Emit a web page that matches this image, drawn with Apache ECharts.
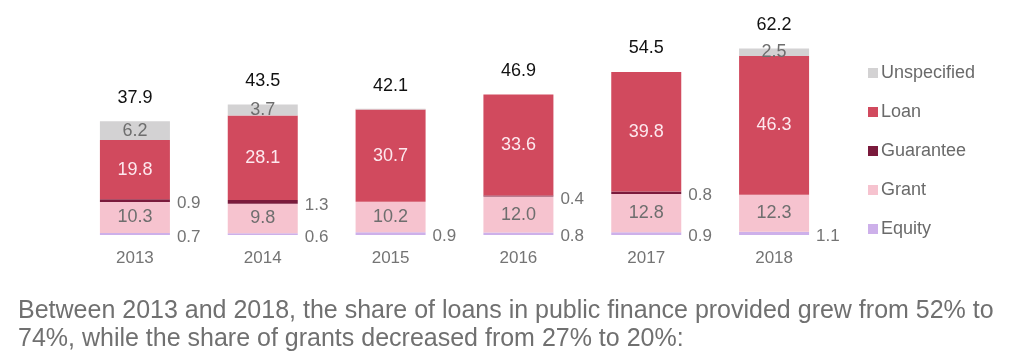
<!DOCTYPE html>
<html>
<head>
<meta charset="utf-8">
<script src="https://cdn.jsdelivr.net/npm/echarts@6/dist/echarts.min.js"></script>
<style>html,body{margin:0;padding:0;background:#fff;}#c{width:1024px;height:360px;}</style>
</head>
<body>
<div id="c"></div>
<script>
var years = ['2013', '2014', '2015', '2016', '2017', '2018'];
var equity = [0.7, 0.6, 0.9, 0.8, 0.9, 1.1];
var grant = [10.3, 9.8, 10.2, 12.0, 12.8, 12.3];
var guarantee = [0.9, 1.3, 0, 0.4, 0.8, 0];
var loan = [19.8, 28.1, 30.7, 33.6, 39.8, 46.3];
var unspecified = [6.2, 3.7, 0.3, 0, 0, 2.5];
var totals = [37.9, 43.5, 42.1, 46.9, 54.5, 62.2];
var caption = 'Between 2013 and 2018, the share of loans in public finance provided grew from 52% to\n74%, while the share of grants decreased from 27% to 20%:';

var FONT = '"Liberation Sans", Arial, sans-serif';
var GREY = '#747474';

function items(vals, insideColor, showSmallOutside) {
  return vals.map(function (v) {
    if (!v) return { value: v, label: { show: false } };
    if (v >= 2) {
      return { value: v, label: { show: true, position: 'inside', color: insideColor, fontSize: 18 } };
    }
    if (showSmallOutside) {
      return { value: v, label: { show: true, position: 'right', distance: 7, offset: [0, 3], color: GREY, fontSize: 17 } };
    }
    return { value: v, label: { show: false } };
  });
}

function seg(name, vals, color, insideColor, small) {
  return {
    name: name, type: 'bar', stack: 'all', barWidth: 70,
    itemStyle: { color: color },
    label: { fontFamily: FONT, formatter: function (p) { return p.value.toFixed(1); } },
    data: items(vals, insideColor, small)
  };
}

var chart = echarts.init(document.getElementById('c'));
chart.setOption({
  animation: false,
  grid: { left: 71, right: 186, top: 25, bottom: 125 },
  legend: {
    orient: 'vertical', left: 863, top: 59,
    itemWidth: 10, itemHeight: 10, itemGap: 21, icon: 'rect',
    data: ['Unspecified', 'Loan', 'Guarantee', 'Grant', 'Equity'],
    textStyle: { fontSize: 18, color: '#6a6a6a', fontFamily: FONT, padding: [0, 0, 0, -2] }
  },
  xAxis: {
    type: 'category', data: years,
    axisLine: { show: false }, axisTick: { show: false },
    axisLabel: { fontSize: 17, color: GREY, fontFamily: FONT, margin: 15 }
  },
  yAxis: { type: 'value', min: 0, max: 70, show: false, splitLine: { show: false } },
  graphic: [{
    type: 'text', left: 18, top: 297,
    style: { text: caption, font: '25px ' + FONT, fill: '#707070', lineHeight: 28 }
  }],
  series: [
    seg('Equity', equity, '#cdb0ea', GREY, true),
    seg('Grant', grant, '#f6c3cf', '#6e6e6e', true),
    seg('Guarantee', guarantee, '#7a1a3c', GREY, true),
    seg('Loan', loan, '#d14a5e', '#fde8ee', true),
    seg('Unspecified', unspecified, '#d3d2d3', '#6e6e6e', false),
    {
      name: 'Total', type: 'bar', barWidth: 70, barGap: '-100%', z: 1,
      itemStyle: { color: 'rgba(0,0,0,0)' },
      label: { show: true, position: 'top', distance: 14, fontSize: 18, color: '#111', fontFamily: FONT,
        formatter: function (p) { return p.value.toFixed(1); } },
      data: totals
    }
  ]
});
</script>
</body>
</html>
